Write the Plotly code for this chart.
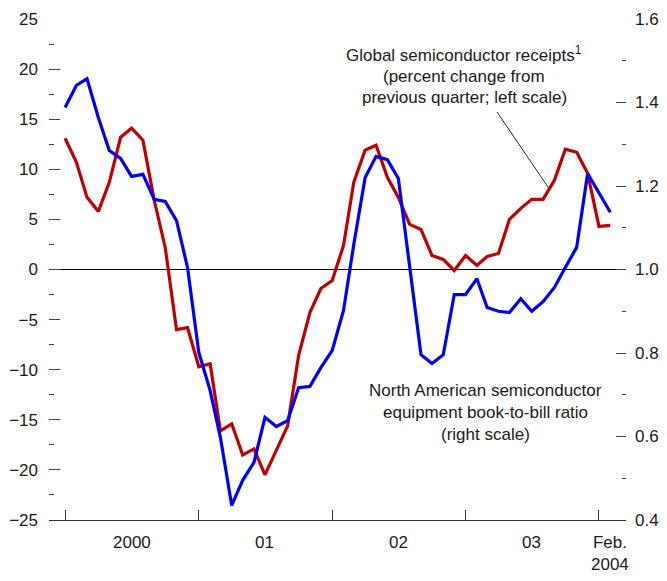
import pandas as pd
import plotly.graph_objects as go

# Monthly observations, Jan 2000 - Feb 2004
months = pd.date_range("2000-01-01", "2004-02-01", freq="MS").strftime("%Y-%m-%d").tolist()

# Global semiconductor receipts, percent change from previous quarter (left scale)
receipts = [
    13.1, 10.7, 7.2, 5.8, 8.7, 13.2, 14.1, 12.9, 6.9, 2.2, -6.0, -5.8,
    -9.7, -9.4, -16.1, -15.4, -18.5, -17.9, -20.5, -18.0, -15.6, -8.6, -4.3, -1.9,
    -1.1, 2.4, 8.7, 11.9, 12.4, 9.2, 7.2, 4.5, 4.0, 1.4, 1.0, -0.1,
    1.4, 0.4, 1.3, 1.6, 5.0, 6.1, 7.0, 7.0, 8.9, 12.0, 11.7, 9.6,
    4.3, 4.4,
]

# North American semiconductor equipment book-to-bill ratio (right scale)
book_to_bill = [
    1.388, 1.441, 1.457, 1.364, 1.285, 1.266, 1.223, 1.228, 1.168, 1.163, 1.117, 1.005,
    0.801, 0.710, 0.598, 0.435, 0.495, 0.538, 0.646, 0.624, 0.638, 0.717, 0.720, 0.765,
    0.806, 0.902, 1.060, 1.220, 1.271, 1.263, 1.218, 1.007, 0.796, 0.775, 0.796, 0.940,
    0.940, 0.978, 0.909, 0.900, 0.897, 0.930, 0.900, 0.923, 0.957, 1.005, 1.053, 1.230,
    1.182, 1.137,
]

year_starts = ["2000-01-01", "2001-01-01", "2002-01-01", "2003-01-01", "2004-01-01"]
year_label_pos = ["2000-07-01", "2001-07-01", "2002-07-01", "2003-07-01", "2004-02-01"]
year_labels = ["2000", "01", "02", "03", "Feb.<br>2004"]

FONT = "Liberation Sans, Arial, sans-serif"
TXT = "#1a1a1a"
FS = 17

fig = go.Figure()
fig.add_trace(go.Scatter(x=months, y=receipts, mode="lines",
                         line=dict(color="#C00000", width=3.2), yaxis="y"))
fig.add_trace(go.Scatter(x=months, y=book_to_bill, mode="lines",
                         line=dict(color="#0000FF", width=3.2), yaxis="y2"))

# page offset from default body margin
OFF = 8
W, H = 667 - OFF, 581 - 2 * OFF
# plot area in page pixels
L, R, T, B = 49, 626, 19, 520


def px(xp):
    return (xp - L) / (R - L)


def py(yp):
    return (B - yp) / (B - T)


annotations = []
for xv, lab in zip(year_label_pos, year_labels):
    annotations.append(dict(x=xv, xref="x", y=py(531), yref="paper", text=lab,
                            showarrow=False, xanchor="center", yanchor="top",
                            font=dict(size=FS, color=TXT, family=FONT)))

global_lines = [("Global semiconductor receipts<sup>1</sup>", 54),
                ("(percent change from", 76),
                ("previous quarter; left scale)", 98)]
for t, yy in global_lines:
    annotations.append(dict(x=px(464), xref="paper", y=py(yy), yref="paper", text=t,
                            showarrow=False, xanchor="center", yanchor="middle",
                            font=dict(size=FS, color=TXT, family=FONT)))

na_lines = [("North American semiconductor", 390),
            ("equipment book-to-bill ratio", 412),
            ("(right scale)", 434)]
for t, yy in na_lines:
    annotations.append(dict(x=px(485), xref="paper", y=py(yy), yref="paper", text=t,
                            showarrow=False, xanchor="center", yanchor="middle",
                            font=dict(size=FS, color=TXT, family=FONT)))

fig.update_layout(
    width=W, height=H,
    margin=dict(l=L - OFF, r=W - (R - OFF), t=T - OFF, b=H - (B - OFF), autoexpand=False),
    paper_bgcolor="white", plot_bgcolor="white",
    showlegend=False,
    font=dict(family=FONT, size=FS, color=TXT),
    xaxis=dict(
        type="date", automargin=False,
        range=["1999-11-18", "2004-03-15"],
        tickvals=year_starts, showticklabels=False,
        ticks="inside", ticklen=10, tickcolor="#333333", tickwidth=1,
        showgrid=False, zeroline=False,
        showline=True, linecolor="#333333", linewidth=1.2,
    ),
    yaxis=dict(
        range=[-25, 25], dtick=5, tick0=0, automargin=False,
        ticks="inside", ticklen=11, tickcolor="#444444", tickwidth=1,
        minor=dict(ticks="inside", ticklen=5, dtick=2.5, tick0=0, tickcolor="#444444"),
        showgrid=False, zeroline=True, zerolinecolor="#000000", zerolinewidth=1.2,
        showline=False, ticklabelstandoff=10,
        tickfont=dict(size=FS, color=TXT, family=FONT),
    ),
    yaxis2=dict(
        range=[0.4, 1.6], dtick=0.2, tick0=0.4, tickformat=".1f", automargin=False,
        overlaying="y", side="right",
        ticks="inside", ticklen=10, tickcolor="#444444", tickwidth=1,
        minor=dict(ticks="inside", ticklen=4, dtick=0.1, tick0=0.4, tickcolor="#444444"),
        showgrid=False, zeroline=False, showline=False, ticklabelstandoff=8,
        tickfont=dict(size=FS, color=TXT, family=FONT),
    ),
    annotations=annotations,
    shapes=[dict(type="line", xref="paper", yref="paper",
                 x0=px(497), y0=py(112), x1=px(548), y1=py(187),
                 line=dict(color="#222222", width=1))],
)

fig.write_html("out.html")
